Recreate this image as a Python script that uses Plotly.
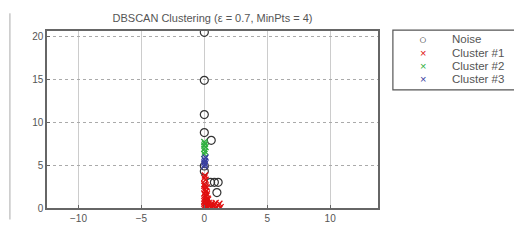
import plotly.graph_objects as go

# ---- data ----
noise_x = [0, 0, 0, 0, 0.55, 0, 0, 0.5, 0.8, 1.1, 1.0]
noise_y = [20.5, 14.9, 10.9, 8.8, 7.9, 4.3, 4.9, 3.0, 3.0, 3.0, 1.8]

c1_x = [0, 0.05, 0.1, 0.15, 0.2, 0, 0.1, 0.2, 0.3, 0.05, 0.15, 0.25, 0.35, 0.4, 0, 0.1, 0.2, 0.3,
        0.5, 0.6, 0.7, 0.8, 0.9, 1.0, 1.1, 1.2, 0.05, 0.1, 0, 0.15, 0.1, 0.2, 0, 0.05, 0.1, 0, 0.05, 0, 1.3, 0.9]
c1_y = [0.1, 0.3, 0.2, 0.5, 0.1, 0.8, 0.9, 0.7, 0.4, 1.2, 1.4, 1.1, 0.6, 0.2, 1.7, 1.9, 1.6, 1.0,
        0.3, 0.5, 0.2, 0.4, 0.6, 0.1, 0.3, 0.5, 2.2, 2.5, 2.8, 2.0, 3.3, 2.4, 3.5, 3.8, 0.0, 2.6, 1.5, 0.5, 0.1, 0.0]

c2_x = [0, 0.05, 0, 0.1, 0, 0.05, 0]
c2_y = [6.3, 6.6, 6.9, 7.1, 7.3, 7.5, 7.7]

c3_x = [0, 0.05, 0, 0.05, 0, 0.1]
c3_y = [4.9, 5.1, 5.3, 5.5, 5.7, 5.9]

series_names = ["Noise", "Cluster #1", "Cluster #2", "Cluster #3"]
legend_symbols = ["○", "×", "×", "×"]
series_colors = ["#333333", "#e01010", "#30b040", "#3a40a0"]

x_ticks = [-10, -5, 0, 5, 10]
y_ticks = [0, 5, 10, 15, 20]

fig = go.Figure()
fig.add_trace(go.Scatter(x=noise_x, y=noise_y, mode="markers", name=series_names[0],
                         marker=dict(symbol="circle-open", size=8, color=series_colors[0], line=dict(width=1.2))))
fig.add_trace(go.Scatter(x=c1_x, y=c1_y, mode="markers", name=series_names[1],
                         marker=dict(symbol="x-thin-open", size=6, color=series_colors[1], line=dict(width=1.3))))
fig.add_trace(go.Scatter(x=c2_x, y=c2_y, mode="markers", name=series_names[2],
                         marker=dict(symbol="x-thin-open", size=6, color=series_colors[2], line=dict(width=1.3))))
fig.add_trace(go.Scatter(x=c3_x, y=c3_y, mode="markers", name=series_names[3],
                         marker=dict(symbol="x-thin-open", size=6, color=series_colors[3], line=dict(width=1.3))))

# page body has an 8px default margin on all sides: the figure is sized to fit inside the window
fig.update_layout(
    width=506, height=228,
    margin=dict(l=39, r=136, t=23, b=13),
    paper_bgcolor="white", plot_bgcolor="white",
    font=dict(family="Liberation Sans, Arial, sans-serif", size=10, color="#555555"),
    title=dict(text="DBSCAN Clustering (ε = 0.7, MinPts = 4)", x=0.5, xanchor="center",
               xref="paper", y=0.956, yanchor="middle", font=dict(size=11, color="#555555")),
    showlegend=False,
    xaxis=dict(range=[-12.5, 13.8], tickvals=x_ticks, showgrid=True, gridcolor="#cccccc", gridwidth=1,
               zeroline=False, showline=True, linecolor="#666666", linewidth=1.5, mirror=True,
               ticks="inside", ticklen=3, tickcolor="#666666"),
    yaxis=dict(range=[0, 20.65], tickvals=y_ticks, showgrid=True, gridcolor="#aaaaaa", gridwidth=1,
               griddash="dot", zeroline=False, showline=True, linecolor="#666666", linewidth=1.5,
               mirror=True, ticks="inside", ticklen=3, tickcolor="#666666"),
)

# legend box drawn manually (tighter than Plotly's native legend)
fig.add_shape(type="rect", xref="paper", yref="paper", x0=1.045, x1=1.42, y0=0.667, y1=1.005,
              line=dict(color="#555555", width=1.2), fillcolor="white")
row_y = [0.953, 0.878, 0.802, 0.727]
sym_sizes = [13, 11, 11, 11]
for name, sym, col, ry, ss in zip(series_names, legend_symbols, series_colors, row_y, sym_sizes):
    fig.add_annotation(x=1.136, y=ry, xref="paper", yref="paper", text=sym, showarrow=False,
                       xanchor="center", yanchor="middle", font=dict(size=ss, color=col))
    fig.add_annotation(x=1.218, y=ry, xref="paper", yref="paper", text=name, showarrow=False,
                       xanchor="left", yanchor="middle", font=dict(size=11.5, color="#555555"))

fig.add_shape(type="line", xref="paper", yref="paper", x0=-0.112, x1=-0.112, y0=-0.065, y1=1.1,
              line=dict(color="#aaaaaa", width=1))
fig.write_html("out.html")
